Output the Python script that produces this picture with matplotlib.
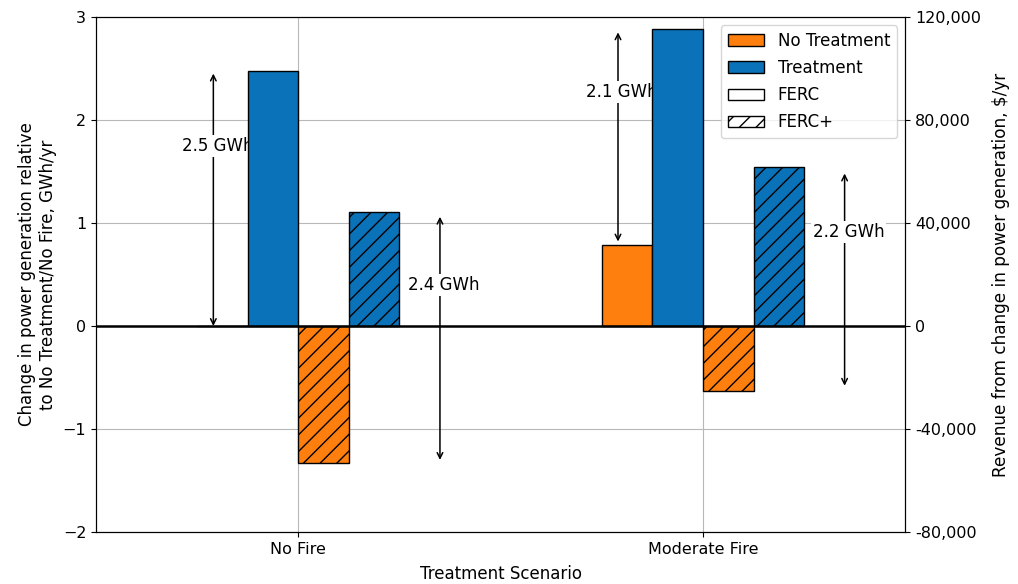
import matplotlib
matplotlib.use("Agg")
import matplotlib.pyplot as plt
import matplotlib.ticker as mticker
from matplotlib.patches import Patch
import numpy as np

categories = ["No Fire", "Moderate Fire"]
no_treat_ferc = [0.0, 0.79]
treat_ferc = [2.48, 2.88]
no_treat_fercp = [-1.33, -0.63]
treat_fercp = [1.11, 1.54]

# annotation arrows: (x offset from category, y_start, y_end, text, text_y)
arrow_cat = [0, 0, 1, 1]
arrow_dx = [-0.21, 0.35, -0.21, 0.35]
arrow_y0 = [0.0, 1.06, 0.82, 1.48]
arrow_y1 = [2.45, -1.30, 2.85, -0.58]
arrow_labels = ["2.5 GWh", "2.4 GWh", "2.1 GWh", "2.2 GWh"]
label_y = [1.75, 0.40, 2.27, 0.91]

orange = "#FF7F0E"
blue = "#0A72B8"

plt.rcParams['font.family'] = ['DejaVu Sans']
fig = plt.figure(figsize=(10.18, 5.84), dpi=100)
ax = fig.add_axes([0.0943, 0.089, 0.795, 0.882])

x = np.arange(len(categories))
w = 0.125
ax.bar(x - 1.5 * w, no_treat_ferc, w, color=orange, edgecolor="black", linewidth=1, zorder=3)
ax.bar(x - 0.5 * w, treat_ferc, w, color=blue, edgecolor="black", linewidth=1, zorder=3)
ax.bar(x + 0.5 * w, no_treat_fercp, w, color=orange, edgecolor="black", linewidth=1, hatch="//", zorder=3)
ax.bar(x + 1.5 * w, treat_fercp, w, color=blue, edgecolor="black", linewidth=1, hatch="//", zorder=3)

ax.axhline(0, color="black", linewidth=1.8, zorder=4)

for c, dx, y0, y1, lab, ty in zip(arrow_cat, arrow_dx, arrow_y0, arrow_y1, arrow_labels, label_y):
    ax.annotate("", xy=(c + dx, y1), xytext=(c + dx, y0),
                arrowprops=dict(arrowstyle="<->", color="black", lw=1.1, shrinkA=0, shrinkB=0),
                zorder=1)
    ax.text(c + dx + 0.01, ty, lab, ha="center", va="center", fontsize=12,
            bbox=dict(facecolor="white", edgecolor="none", pad=1.5), zorder=2)

ax.set_xlim(-0.5, 1.5)
ax.set_ylim(-2, 3)
ax.set_xticks(x)
ax.set_xticklabels(categories)
ax.set_yticks([-2, -1, 0, 1, 2, 3])
ax.grid(True, color="#b8b8b8", linewidth=0.8, zorder=0)
ax.set_axisbelow(True)
ax.tick_params(labelsize=11.5)
ax.set_xlabel("Treatment Scenario", fontsize=12, labelpad=6)
ax.set_ylabel("Change in power generation relative\nto No Treatment/No Fire, GWh/yr", fontsize=12)

ax2 = ax.twinx()
ax2.set_ylim(-80000, 120000)
ax2.set_yticks([-80000, -40000, 0, 40000, 80000, 120000])
ax2.yaxis.set_major_formatter(mticker.FuncFormatter(lambda v, p: f"{int(v):,}"))
ax2.tick_params(labelsize=11.5)
ax2.set_ylabel("Revenue from change in power generation, $/yr", fontsize=12.2, labelpad=8)

handles = [Patch(facecolor=orange, edgecolor="black", label="No Treatment"),
           Patch(facecolor=blue, edgecolor="black", label="Treatment"),
           Patch(facecolor="white", edgecolor="black", label="FERC"),
           Patch(facecolor="white", edgecolor="black", hatch="//", label="FERC+")]
ax2.legend(handles=handles, loc="upper right", fontsize=12, framealpha=0.8,
           labelspacing=0.55, handlelength=2.2)

fig.savefig("out.png", dpi=100)
